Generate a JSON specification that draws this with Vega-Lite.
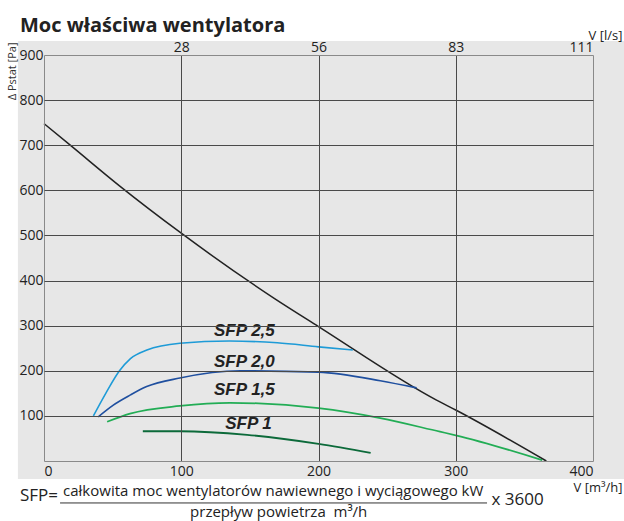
{
  "$schema": "https://vega.github.io/schema/vega-lite/v6.json",
  "width": 549,
  "height": 406,
  "autosize": {"type": "none"},
  "padding": {"left": 44, "top": 55, "right": 31, "bottom": 60},
  "background": "white",
  "title": {
    "text": "Moc właściwa wentylatora",
    "anchor": "start",
    "frame": "group",
    "font": "Open Sans",
    "fontSize": 20,
    "fontWeight": "bold",
    "color": "#222222",
    "dx": -24,
    "dy": 7,
    "offset": 0
  },
  "config": {
    "view": {"stroke": null, "fill": null},
    "axis": {"zindex": 1}
  },
  "datasets": {
    "bg": [{"x": -19, "x2": 425, "y": -40, "y2": 931}],
    "curves": [
      {"series": "Charakterystyka", "x": 0, "y": 748},
      {"series": "Charakterystyka", "x": 20, "y": 698},
      {"series": "Charakterystyka", "x": 55, "y": 610},
      {"series": "Charakterystyka", "x": 100, "y": 505},
      {"series": "Charakterystyka", "x": 168, "y": 360},
      {"series": "Charakterystyka", "x": 200, "y": 298},
      {"series": "Charakterystyka", "x": 286, "y": 135},
      {"series": "Charakterystyka", "x": 300, "y": 113},
      {"series": "Charakterystyka", "x": 366, "y": 0},
      {"series": "SFP 2,5", "x": 36, "y": 100},
      {"series": "SFP 2,5", "x": 45, "y": 150},
      {"series": "SFP 2,5", "x": 55, "y": 200},
      {"series": "SFP 2,5", "x": 63, "y": 227},
      {"series": "SFP 2,5", "x": 75, "y": 246},
      {"series": "SFP 2,5", "x": 99, "y": 261},
      {"series": "SFP 2,5", "x": 135, "y": 266},
      {"series": "SFP 2,5", "x": 170, "y": 262},
      {"series": "SFP 2,5", "x": 200, "y": 253},
      {"series": "SFP 2,5", "x": 225, "y": 246},
      {"series": "SFP 2,0", "x": 39.5, "y": 98},
      {"series": "SFP 2,0", "x": 50.5, "y": 124},
      {"series": "SFP 2,0", "x": 62.7, "y": 146},
      {"series": "SFP 2,0", "x": 74.8, "y": 165},
      {"series": "SFP 2,0", "x": 99, "y": 184},
      {"series": "SFP 2,0", "x": 143, "y": 200},
      {"series": "SFP 2,0", "x": 200, "y": 197},
      {"series": "SFP 2,0", "x": 245, "y": 178},
      {"series": "SFP 2,0", "x": 271.5, "y": 162},
      {"series": "SFP 1,5", "x": 46, "y": 87},
      {"series": "SFP 1,5", "x": 62.7, "y": 105},
      {"series": "SFP 1,5", "x": 99, "y": 122},
      {"series": "SFP 1,5", "x": 135.5, "y": 129},
      {"series": "SFP 1,5", "x": 200, "y": 117},
      {"series": "SFP 1,5", "x": 245, "y": 95},
      {"series": "SFP 1,5", "x": 288.5, "y": 65},
      {"series": "SFP 1,5", "x": 300, "y": 57},
      {"series": "SFP 1,5", "x": 363, "y": 2},
      {"series": "SFP 1", "x": 72, "y": 66},
      {"series": "SFP 1", "x": 99, "y": 66},
      {"series": "SFP 1", "x": 148, "y": 58},
      {"series": "SFP 1", "x": 200, "y": 38},
      {"series": "SFP 1", "x": 238, "y": 18}
    ],
    "labels": [
      {"text": "SFP 2,5", "x": 146, "y": 288},
      {"text": "SFP 2,0", "x": 146, "y": 219},
      {"text": "SFP 1,5", "x": 146, "y": 157},
      {"text": "SFP 1", "x": 149, "y": 82}
    ],
    "formulaCenter": [
      {"text": "całkowita moc wentylatorów nawiewnego i wyciągowego kW", "x": 167, "y": -66},
      {"text": "przepływ powietrza\u00a0 m³/h", "x": 171, "y": -114}
    ],
    "formulaLeft": [
      {"text": "SFP=", "x": -17.5, "y": -77},
      {"text": "x 3600", "x": 326, "y": -87}
    ],
    "fraction": [{"x": 11.7, "x2": 322.8, "y": -93}]
  },
  "resolve": {"scale": {"x": "shared", "y": "shared"}, "axis": {"x": "independent", "y": "independent"}},
  "layer": [
    {
      "data": {"name": "bg"},
      "mark": {"type": "rect", "fill": "#e7e7e7"},
      "encoding": {
        "x": {"field": "x", "type": "quantitative", "scale": {"domain": [0, 400], "nice": false, "zero": false}, "axis": null},
        "x2": {"field": "x2"},
        "y": {"field": "y", "type": "quantitative", "scale": {"domain": [0, 900], "nice": false, "zero": false}, "axis": null},
        "y2": {"field": "y2"}
      }
    },
    {
      "data": {"name": "curves"},
      "mark": {"type": "line", "interpolate": "monotone"},
      "encoding": {
        "x": {
          "field": "x", "type": "quantitative",
          "scale": {"domain": [0, 400], "nice": false, "zero": false},
          "axis": {
            "orient": "bottom",
            "values": [0, 100, 200, 300, 400],
            "title": "V [m³/h]",
            "titleX": 578, "titleY": 26, "titleAlign": "right", "titleBaseline": "middle", "titleAnchor": "end",
            "titleFont": "Open Sans", "titleFontSize": 13, "titleFontWeight": "normal", "titleColor": "#222222",
            "labelFont": "Open Sans", "labelFontSize": 14, "labelColor": "#222222", "labelPadding": 3,
            "ticks": false, "domain": false,
            "grid": true,
            "gridColor": {"condition": {"test": "datum.value == 0 || datum.value == 400", "value": "#8a8a8a"}, "value": "#4a4a4a"},
            "gridWidth": 1,
            "zindex": 1
          }
        },
        "y": {
          "field": "y", "type": "quantitative",
          "scale": {"domain": [0, 900], "nice": false, "zero": false},
          "axis": {
            "orient": "left",
            "values": [0, 100, 200, 300, 400, 500, 600, 700, 800, 900],
            "labelExpr": "datum.value == 0 ? '' : datum.label",
            "title": "Δ Pstat [Pa]",
            "titleX": -32, "titleY": -13, "titleAlign": "right", "titleBaseline": "middle", "titleAngle": -90,
            "titleFont": "Open Sans", "titleFontSize": 11, "titleFontWeight": "normal", "titleColor": "#333333",
            "labelFont": "Open Sans", "labelFontSize": 14, "labelColor": "#222222", "labelPadding": 1,
            "ticks": false, "domain": false,
            "grid": true,
            "gridColor": {"condition": {"test": "datum.value == 0 || datum.value == 900", "value": "#8a8a8a"}, "value": "#4a4a4a"},
            "gridWidth": 1,
            "zindex": 1
          }
        },
        "color": {
          "field": "series", "type": "nominal",
          "scale": {"domain": ["Charakterystyka", "SFP 2,5", "SFP 2,0", "SFP 1,5", "SFP 1"], "range": ["#222222", "#1e9bd7", "#1f4f9f", "#22ad55", "#0c6a3a"]},
          "legend": null
        },
        "strokeWidth": {
          "field": "series", "type": "nominal",
          "scale": {"domain": ["Charakterystyka", "SFP 2,5", "SFP 2,0", "SFP 1,5", "SFP 1"], "range": [1.5, 1.8, 1.8, 1.8, 1.8]},
          "legend": null
        }
      }
    },
    {
      "data": {"name": "labels"},
      "mark": {"type": "text", "font": "Liberation Sans", "fontSize": 17, "fontWeight": "bold", "fontStyle": "italic", "color": "#222222", "align": "center", "baseline": "middle"},
      "encoding": {
        "x": {
          "field": "x", "type": "quantitative",
          "scale": {"domain": [0, 400], "nice": false, "zero": false},
          "axis": {
            "orient": "top",
            "values": [100, 200, 300, 400],
            "labelExpr": "datum.value == 100 ? '28' : datum.value == 200 ? '56' : datum.value == 300 ? '83' : '111'",
            "title": "V [l/s]",
            "titleX": 578, "titleY": -20, "titleAlign": "right", "titleBaseline": "middle", "titleAnchor": "end",
            "titleFont": "Open Sans", "titleFontSize": 13, "titleFontWeight": "normal", "titleColor": "#222222",
            "labelFont": "Open Sans", "labelFontSize": 14, "labelColor": "#222222", "labelPadding": 1, "labelFlush": true,
            "ticks": false, "domain": false, "grid": false,
            "zindex": 1
          }
        },
        "y": {"field": "y", "type": "quantitative", "scale": {"domain": [0, 900], "nice": false, "zero": false}, "axis": null},
        "text": {"field": "text"}
      }
    },
    {
      "data": {"name": "formulaCenter"},
      "mark": {"type": "text", "font": "Open Sans", "fontSize": 15, "color": "#222222", "align": "center", "baseline": "middle"},
      "encoding": {
        "x": {"field": "x", "type": "quantitative", "scale": {"domain": [0, 400], "nice": false, "zero": false}, "axis": null},
        "y": {"field": "y", "type": "quantitative", "scale": {"domain": [0, 900], "nice": false, "zero": false}, "axis": null},
        "text": {"field": "text"}
      }
    },
    {
      "data": {"name": "formulaLeft"},
      "mark": {"type": "text", "font": "Open Sans", "fontSize": 17, "color": "#222222", "align": "left", "baseline": "middle"},
      "encoding": {
        "x": {"field": "x", "type": "quantitative", "scale": {"domain": [0, 400], "nice": false, "zero": false}, "axis": null},
        "y": {"field": "y", "type": "quantitative", "scale": {"domain": [0, 900], "nice": false, "zero": false}, "axis": null},
        "text": {"field": "text"}
      }
    },
    {
      "data": {"name": "fraction"},
      "mark": {"type": "rule", "color": "#333333", "strokeWidth": 1},
      "encoding": {
        "x": {"field": "x", "type": "quantitative", "scale": {"domain": [0, 400], "nice": false, "zero": false}, "axis": null},
        "x2": {"field": "x2"},
        "y": {"field": "y", "type": "quantitative", "scale": {"domain": [0, 900], "nice": false, "zero": false}, "axis": null}
      }
    }
  ]
}
